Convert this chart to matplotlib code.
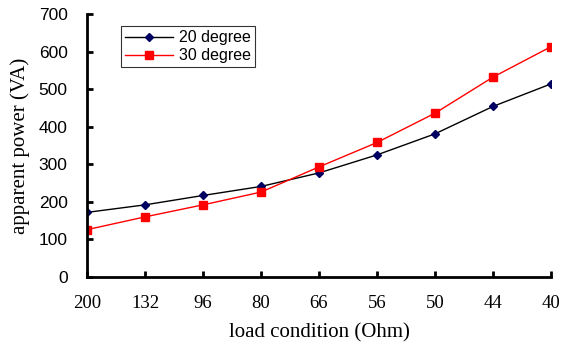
import matplotlib
matplotlib.use('Agg')
import matplotlib.pyplot as plt

loads = ['200', '132', '96', '80', '66', '56', '50', '44', '40']
deg20 = [172, 192, 217, 241, 277, 325, 381, 454, 514]
deg30 = [126, 160, 192, 226, 293, 358, 436, 532, 613]

fig = plt.figure(figsize=(5.62, 3.46), dpi=100)
ax = fig.add_axes([87/562, 69/346, 464/562, 263/346])

x = range(len(loads))
ax.plot(x, deg20, color='black', lw=1, marker='D', ms=4.5,
        mfc='#000060', mec='#000060', label='20 degree')
ax.plot(x, deg30, color='red', lw=1, marker='s', ms=5.5,
        mfc='red', mec='red', label='30 degree')

ax.set_xlim(0, len(loads) - 1)
ax.set_ylim(0, 700)
ax.set_xticks(list(x))
ax.set_xticklabels(loads, family='Liberation Serif', fontsize=13.5)
ax.set_yticks(range(0, 701, 100))
for lab in ax.get_yticklabels():
    lab.set_family('Liberation Sans')
    lab.set_fontsize(12.5)
ax.tick_params(direction='in', length=4, width=2)
ax.tick_params(axis='x', pad=13)
ax.tick_params(axis='y', pad=14)

for s in ['top', 'right']:
    ax.spines[s].set_visible(False)
for s in ['left', 'bottom']:
    ax.spines[s].set_linewidth(2)

ax.set_xlabel('load condition (Ohm)', family='Liberation Serif', fontsize=15, labelpad=8)
ax.set_ylabel('apparent power (VA)', family='Liberation Serif', fontsize=15, labelpad=6)

leg = ax.legend(loc='upper left', bbox_to_anchor=(0.073, 0.954), borderaxespad=0,
                fancybox=False, edgecolor='black',
                prop={'family': 'Liberation Sans', 'size': 11.5},
                handlelength=3, borderpad=0.25, labelspacing=0.2, handletextpad=0.4)
leg.get_frame().set_linewidth(0.8)

plt.savefig('out.png', dpi=100)
